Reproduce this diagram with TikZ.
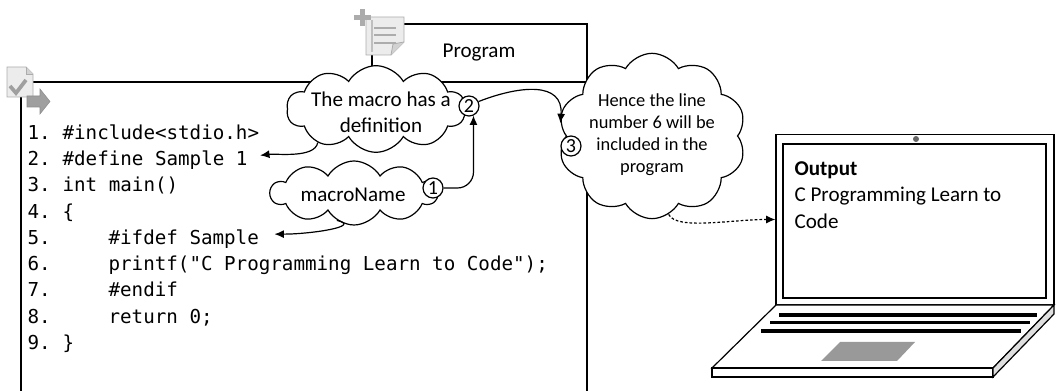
\documentclass[tikz,border=0pt]{standalone}
\usepackage{fontspec}
\setmainfont{Carlito}
\setmonofont{DejaVu Sans Mono}
\usetikzlibrary{shapes.symbols,arrows.meta,calc}

\tikzset{
  bubble/.style={cloud, cloud puffs=10, cloud puff arc=120, cloud ignores aspect,
    draw, fill=white, inner sep=0pt},
  bubbletext/.style={align=center, inner sep=0pt, font=\fontsize{15.8}{19.5}\selectfont},
  badge/.style={circle, draw, fill=white, inner sep=0pt, minimum size=15pt,
    font=\fontsize{15}{15}\selectfont},
  codeline/.style={anchor=base west, inner sep=0pt, font=\ttfamily\fontsize{14.4}{16}\selectfont},
  link/.style={-{Latex[length=7pt,width=6pt]}},
  icon/.style={draw=gray!65, fill=gray!15, line width=0.6pt},
}

\begin{document}
\begin{tikzpicture}[x=0.75pt, y=-0.75pt, line width=0.9pt]
\useasboundingbox (0,0) rectangle (1056,391);

% frames of the program and of its source
\draw (372,82) -- (372,24) -- (587,24) -- (587,400);
\draw (21,400) -- (21,82) -- (587,82);
\node[font=\fontsize{15.8}{18}\selectfont] (prog) at (479,53) {Program};

% document icon with check mark and arrow
\draw[icon] (7,67) -- (26,67) -- (33,74) -- (33,97) -- (7,97) -- cycle;
\draw[icon, fill=gray!35] (26,67) -- (26,74) -- (33,74);
\draw[gray!75, line width=2.8pt] (10,86) -- (16,93) -- (26,80);
\fill[gray!75, draw=gray!90, line width=0.4pt]
  (27,96) -- (40,96) -- (40,89) -- (50,101.5) -- (40,114) -- (40,107) -- (27,107) -- cycle;

% program icon: sheet with lines and a plus
\draw[icon] (366,17) -- (404,17) -- (404,42) -- (391,55) -- (366,55) -- cycle;
\draw[icon, fill=gray!35] (391,55) -- (393,44) -- (404,42);
\draw[gray!50, line width=0.8pt] (372,20) -- (372,52);
\foreach \yy in {28,35,43}
  \draw[gray!65, line width=0.8pt] (374,\yy) -- (396,\yy);
\fill[gray!65] (360,9) rectangle (365,26);
\fill[gray!65] (354,15) rectangle (371,20);

% the source lines
\foreach \i/\x/\txt in {
  1/62/{\#include<stdio.h>},
  2/62/{\#define Sample 1},
  3/62/{int main()},
  4/62/{\{},
  5/108/{\#ifdef Sample},
  6/108/{printf("C Programming Learn to Code");},
  7/108/{\#endif},
  8/108/{return 0;},
  9/62/{\}}}{
  \node[codeline] (num\i) at (27,{139.5+26.25*(\i-1)}) {\i.};
  \node[codeline] (l\i) at (\x,{139.5+26.25*(\i-1)}) {\txt};
}

% callouts
\node[bubble, minimum width=134pt, minimum height=65pt] (def) at (376,109) {};
\node[bubbletext] (deftxt) at (381,112) {The macro has a\\definition};
\node[bubble, minimum width=125pt, minimum height=48pt] (mname) at (354,193) {};
\node[bubbletext] (mnametxt) at (353,195) {macroName};
\node[bubble, minimum width=141pt, minimum height=124pt] (hence) at (652,136) {};
\node[bubbletext, font=\fontsize{13.8}{16.5}\selectfont] (hencetxt) at (652,135)
  {Hence the line\\number 6 will be\\included in the\\program};

\node[badge] (b1) at (433,188) {1};
\node[badge] (b2) at (469,106) {2};
\node[badge] (b3) at (571,146) {3};

% laptop
\node[draw, fill=white, minimum width=208.5pt, minimum height=128pt, inner sep=0pt]
  (screen) at (915,219.5) {};
\draw (783,144) rectangle (1046,298);
\fill[gray!80!black] (916,139) circle (3);
\node[anchor=north west, align=left, inner sep=0pt, font=\fontsize{15.8}{19.9}\selectfont]
  (out) at (794,161) {\textbf{Output}\\C Programming Learn to\\Code};
\draw[fill=white] (776,305) -- (1054,305) -- (993,368) -- (712,368) -- cycle;
\draw[fill=white] (712,368) rectangle (993,377);
\draw[fill=gray!25] (1054,305) -- (1054,314) -- (993,377) -- (993,368) -- cycle;
\draw[line width=2.6pt] (779,315) -- (1037,315);
\draw[line width=2.6pt] (770,322.5) -- (1030,322.5);
\draw[line width=2.6pt] (761,331) -- (1021,331);
\fill[black!40] (840,342) -- (915,342) -- (897,361) -- (821,361) -- cycle;

% connectors
\draw[link] (def.210) .. controls +(-3,16) and +(16,-2) .. ($(l2.east)+(12,-5)$);
\draw[link] (mname.238) .. controls +(26,6) and +(36,0) .. ($(l5.east)+(15,-5)$);
\draw[link, rounded corners=12pt] (b1.east) -| (b2.-65);
\draw[link] (b2.25) .. controls +(41,-16) and +(3,-42) .. (hence.172);
\draw[link, dash pattern=on 2pt off 1.5pt] (hence.282) .. controls +(8,16) and +(-45,0) .. (screen.west);
\end{tikzpicture}
\end{document}
